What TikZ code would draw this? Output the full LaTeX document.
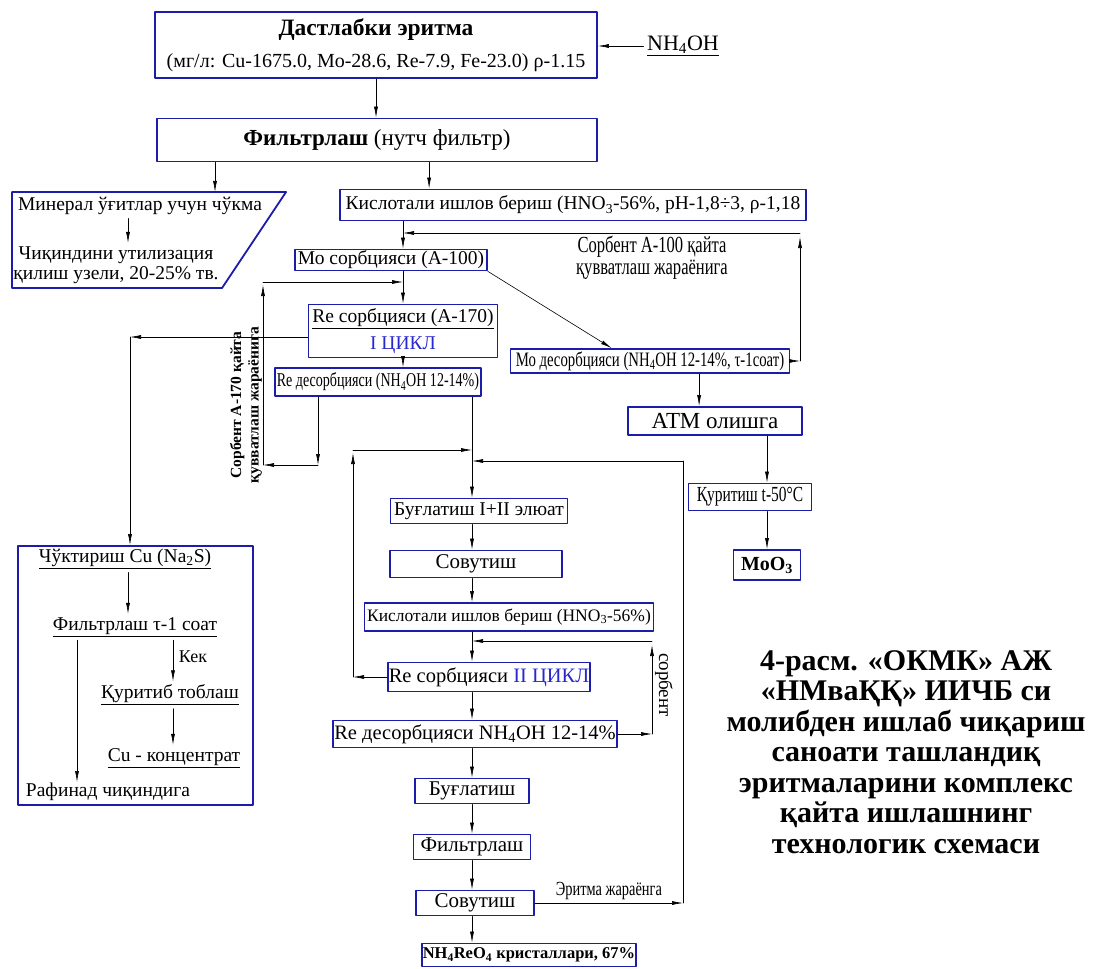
\documentclass[tikz,border=0pt]{standalone}
\usepackage{fontspec}
\setmainfont{Liberation Serif}
\newfontfamily\narrowfont[FakeStretch=0.72]{Liberation Serif}
\usetikzlibrary{arrows.meta}
\definecolor{frameblue}{RGB}{28,28,170}
\definecolor{cycleblue}{RGB}{40,40,205}
\begin{document}
\begin{tikzpicture}[x=1pt,y=-1pt,font=\fontsize{19.5}{23}\selectfont,line join=round,line cap=round,
	>={Latex[length=11pt,width=4pt]},line width=0.6pt,
	box/.style={draw=frameblue,line width=1.8pt,fill=white,inner sep=1pt},
	frame/.style={draw=frameblue,line width=1.8pt}]
	\useasboundingbox (0,0) rectangle (1099,968);
	% top part
	\node[box,minimum width=442,minimum height=66,align=center,font=\fontsize{20}{32}\selectfont] (src) at (376,45) {{\fontsize{23.5}{26}\selectfont\textbf{Дастлабки эритма}}\\(мг/л: Cu-1675.0, Mo-28.6, Re-7.9, Fe-23.0) ρ-1.15};
	\node[font=\fontsize{22}{26}\selectfont] (nh) at (683,46) {\underline{NH\textsubscript{4}OH}};
	\draw[->] (nh.west) -- (nh.west -| src.east);
	\node[box,minimum width=440,minimum height=43,font=\fontsize{23}{26}\selectfont] (filt) at (377,140) {\textbf{Фильтрлаш} (нутч фильтр)};
	\draw[->] (src.south) -- (src.south |- filt.north);
	% waste
	\draw[frame] (12,192) -- (286,192) -- (222,288) -- (12,288) -- cycle;
	\coordinate (trap) at (215,192);
	\draw[->] (filt.south -| trap) -- (trap);
	\node (minr) at (140,206) {Минерал ўғитлар учун чўкма};
	\node[align=center,font=\fontsize{19.5}{20}\selectfont] (waste) at (116,265) {Чиқиндини утилизация\\қилиш узели, 20-25\% тв.};
	\draw[->] ([xshift=-12pt]minr.south) -- ([xshift=-12pt]minr.south |- waste.north);
	% Mo and Re sorption
	\node[box,minimum width=466,minimum height=31] (kisl1) at (573,205) {Кислотали ишлов бериш (HNO\textsubscript{3}-56\%, pH-1,8÷3, ρ-1,18};
	\draw[->] ([xshift=90pt]kisl1.north west |- filt.south) -- ([xshift=90pt]kisl1.north west);
	\node[box,minimum width=192,minimum height=21] (mosorb) at (391,260) {Мо сорбцияси (А-100)};
	\node[box,minimum width=189,minimum height=53,align=center,font=\fontsize{19.5}{27}\selectfont] (resorb1) at (403,331) {\underline{Re сорбцияси (А-170)}\\\textcolor{cycleblue}{I ЦИКЛ}};
	\draw[->] (kisl1.south -| resorb1) -- (mosorb.north -| resorb1);
	\draw[->] (mosorb.south -| resorb1) -- (resorb1.north);
	\node[box,minimum width=279,minimum height=24,font=\narrowfont\fontsize{20.5}{22}\selectfont] (modesorb) at (650,361) {Мо десорбцияси (NH\textsubscript{4}OH 12-14\%, τ-1соат)};
	\draw[->] (mosorb.south east) -- ([xshift=102pt]modesorb.north west);
	\coordinate (rA) at (800,233);
	\coordinate (rB) at (800,361);
	\draw[->] (modesorb.east) -- (rB);
	\draw[->] (rB) -- ([yshift=-4pt]rA);
	\draw[->] (rA) -- (rA -| resorb1);
	\node[align=center,font=\narrowfont\fontsize{23}{22}\selectfont] (sorbA) at (652,258) {Сорбент А-100 қайта\\қувватлаш жараёнига};
	\node[box,minimum width=206,minimum height=28,font=\narrowfont\fontsize{19.5}{21}\selectfont] (redesorb1) at (378,382) {Re десорбцияси (NH\textsubscript{4}OH 12-14\%)};
	\draw[->] (resorb1.south) -- (resorb1.south |- redesorb1.north);
	\coordinate (lT) at (263,282);
	\coordinate (lB) at (263,465);
	\coordinate (lC) at (318,465);
	\draw[->] (lC |- redesorb1.south) -- (lC);
	\draw[->] (lC) -- (lB);
	\draw[->] (lB) -- ([yshift=-3pt]lT);
	\draw[->] (lT) -- (lT -| resorb1);
	\node[rotate=90,align=center,font=\bfseries\fontsize{15.5}{17.5}\selectfont] (sorbB) at (246,405) {Сорбент А-170 қайта\\қувватлаш жараёнига};
	% Mo product
	\node[box,minimum width=174,minimum height=28,font=\fontsize{23}{26}\selectfont] (atm) at (715,421) {АТМ олишга};
	\draw[->] ([xshift=72pt]atm.north west |- modesorb.south) -- ([xshift=72pt]atm.north west);
	\node[box,minimum width=123,minimum height=27,font=\narrowfont\fontsize{21.5}{24}\selectfont] (qurit) at (750,497) {Қуритиш t-50°C};
	\node[box,minimum width=67,minimum height=30,font=\bfseries\fontsize{20}{24}\selectfont] (moo) at (767,565) {MoO\textsubscript{3}};
	\draw[->] (atm.south -| moo) -- (qurit.north -| moo);
	\draw[->] (qurit.south -| moo) -- (moo);
	% Cu branch
	\node[box,minimum width=235,minimum height=259] (cubox) at (135.5,675.5) {};
	\coordinate (cuC) at (130,337);
	\draw[->] ([yshift=-6pt]resorb1.west) -- (cuC);
	\draw[->] (cuC) -- (cuC |- cubox.north);
	\node (chuk) at (125,559) {\underline{Чўктириш Cu (Na\textsubscript{2}S)}};
	\node (filt3) at (135,627) {\underline{Фильтрлаш τ-1 соат}};
	\node (qurtob) at (170,695) {\underline{Қуритиб тоблаш}};
	\node (cucon) at (174,758) {\underline{Cu - концентрат}};
	\node (raf) at (108,792) {Рафинад чиқиндига};
	\node[font=\fontsize{18}{22}\selectfont] (kek) at (193,657) {Кек};
	\coordinate (rafin) at (77,782);
	\draw[->] ([xshift=3pt]chuk.south) -- ([xshift=3pt]chuk.south |- filt3.north);
	\draw[->] ([xshift=3pt]qurtob.north |- filt3.south) -- ([xshift=3pt]qurtob.north);
	\draw[->] ([xshift=3pt]qurtob.south) -- ([xshift=3pt]qurtob.south |- cucon.north);
	\draw[->] (filt3.south -| rafin) -- (rafin);
	% Re second cycle
	\coordinate (midaxis) at (472,440);
	\node[box,minimum width=177,minimum height=25] (bug1) at (479,511) {Буғлатиш I+II элюат};
	\node[box,minimum width=172,minimum height=27,font=\fontsize{21}{24}\selectfont] (sov1) at (476,564) {Совутиш};
	\node[box,minimum width=289,minimum height=28,font=\fontsize{17.5}{21}\selectfont] (kisl2) at (509,617) {Кислотали ишлов бериш (HNO\textsubscript{3}-56\%)};
	\node[box,minimum width=198,minimum height=29,font=\fontsize{20.5}{24}\selectfont] (resorb2) at (489,677) {Re сорбцияси \textcolor{cycleblue}{II ЦИКЛ}};
	\node[box,minimum width=279,minimum height=27,font=\fontsize{20.5}{24}\selectfont] (redesorb2) at (475,734) {Re десорбцияси NH\textsubscript{4}OH 12-14\%};
	\node[box,minimum width=114,minimum height=25,font=\fontsize{21}{24}\selectfont] (bug2) at (472,791) {Буғлатиш};
	\node[box,minimum width=117,minimum height=25,font=\fontsize{21}{24}\selectfont] (filt2) at (472,847) {Фильтрлаш};
	\node[box,minimum width=118,minimum height=25,font=\fontsize{21}{24}\selectfont] (sov2) at (475,903) {Совутиш};
	\node[box,minimum width=202,minimum height=23,font=\bfseries\fontsize{16.5}{20}\selectfont] (nhre) at (529,955) {NH\textsubscript{4}ReO\textsubscript{4} кристаллари, 67\%};
	\draw[->] (redesorb1.south -| midaxis) -- (bug1.north -| midaxis);
	\foreach \a/\b in {bug1/sov1,sov1/kisl2,kisl2/resorb2,resorb2/redesorb2,redesorb2/bug2,bug2/filt2,filt2/sov2,sov2/nhre}
		\draw[->] (\a.south -| midaxis) -- (\b.north -| midaxis);
	\coordinate (lpT) at (353,450);
	\draw[->] (resorb2.west) -- (resorb2.west -| lpT);
	\draw[->] (resorb2.west -| lpT) -- ([yshift=-3pt]lpT);
	\draw[->] (lpT) -- (lpT -| midaxis);
	\coordinate (rpT) at (683,461);
	\draw[->] (sov2.east) -- (sov2.east -| rpT) node[midway,above,font=\narrowfont\fontsize{20}{22}\selectfont] (eritma) {Эритма жараёнга};
	\draw (sov2.east -| rpT) -- (rpT);
	\draw[->] (rpT) -- (rpT -| midaxis);
	\coordinate (spT) at (652,641);
	\draw[->] (redesorb2.east) -- (redesorb2.east -| spT);
	\draw[->] (redesorb2.east -| spT) -- ([yshift=-4pt]spT);
	\draw[->] (spT) -- (spT -| midaxis);
	\node[rotate=-90,font=\fontsize{19}{22}\selectfont] (sorbC) at (664,685) {сорбент};
	% caption
	\node[align=center,font=\bfseries\fontsize{30}{30.5}\selectfont] (caption) at (906,752) {4-расм. «ОКМК» АЖ\\«НМваҚҚ» ИИЧБ си\\молибден ишлаб чиқариш\\саноати ташландиқ\\эритмаларини комплекс\\қайта ишлашнинг\\технологик схемаси};
\end{tikzpicture}
\end{document}
